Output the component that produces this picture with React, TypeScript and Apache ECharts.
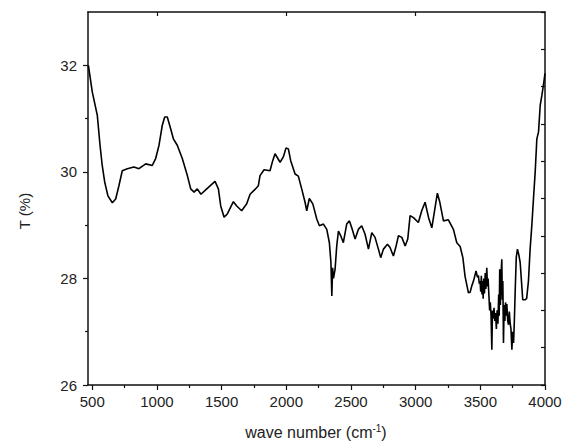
import React, { useEffect, useRef } from "react";
import * as echarts from "echarts";

const waveNumbers = [
  470, 500, 539, 560, 577, 596, 621, 655, 681, 706, 732, 771, 822, 861, 913, 964, 990, 1016, 1041, 1060,
  1080, 1106, 1127, 1157, 1196, 1235, 1261, 1287, 1312, 1340, 1385, 1449, 1475, 1493, 1519, 1544, 1591,
  1617, 1655, 1694, 1720, 1758, 1784, 1797, 1828, 1874, 1895, 1913, 1952, 1977, 1998, 2016, 2034, 2068,
  2093, 2119, 2145, 2158, 2178, 2205, 2236, 2256, 2287, 2313, 2333, 2345, 2352, 2358, 2365, 2377, 2390,
  2403, 2421, 2441, 2467, 2488, 2506, 2532, 2557, 2583, 2609, 2635, 2661, 2686, 2712, 2730, 2751, 2782,
  2802, 2828, 2849, 2867, 2893, 2919, 2939, 2957, 2983, 3021, 3047, 3073, 3100, 3125, 3150, 3168, 3185,
  3215, 3253, 3292, 3318, 3344, 3365, 3382, 3408, 3421, 3434, 3447, 3467, 3478, 3485, 3492, 3498, 3503,
  3508, 3513, 3518, 3522, 3527, 3532, 3538, 3543, 3550, 3555, 3560, 3566, 3572, 3577, 3583, 3589, 3594,
  3600, 3606, 3612, 3618, 3624, 3630, 3636, 3642, 3646, 3650, 3655, 3660, 3666, 3670, 3674, 3679, 3684,
  3690, 3695, 3700, 3705, 3712, 3718, 3724, 3731, 3737, 3744, 3750, 3757, 3763, 3770, 3778, 3787, 3797,
  3808, 3828, 3846, 3858, 3872, 3885, 3898, 3911, 3924, 3937, 3950, 3963, 3976, 3988, 4000,
];

const transmittance = [
  32.0, 31.5, 31.06, 30.5, 30.12, 29.81, 29.55, 29.42, 29.49, 29.74, 30.02, 30.06, 30.09, 30.06, 30.15,
  30.12, 30.25, 30.5, 30.87, 31.03, 31.03, 30.81, 30.62, 30.5, 30.25, 29.93, 29.68, 29.62, 29.68, 29.58,
  29.68, 29.82, 29.68, 29.36, 29.15, 29.21, 29.44, 29.36, 29.27, 29.4, 29.58, 29.67, 29.74, 29.93, 30.04,
  30.02, 30.21, 30.34, 30.18, 30.28, 30.45, 30.43, 30.21, 29.96, 29.92, 29.68, 29.43, 29.27, 29.5, 29.4,
  29.11, 28.99, 29.02, 28.92, 28.67, 28.3, 27.67, 28.2, 28.0, 28.17, 28.61, 28.89, 28.8, 28.67, 29.02,
  29.08, 28.95, 28.74, 28.92, 28.99, 28.83, 28.55, 28.86, 28.77, 28.55, 28.39, 28.55, 28.64, 28.58, 28.42,
  28.61, 28.8, 28.77, 28.61, 28.74, 29.18, 29.14, 29.05, 29.27, 29.43, 29.14, 28.95, 29.33, 29.6, 29.45,
  29.08, 29.1, 28.92, 28.67, 28.6, 28.39, 28.04, 27.73, 27.74, 27.86, 27.95, 28.14, 28.02, 28.06, 27.9,
  27.95, 27.75, 28.05, 27.7, 27.95, 27.62, 28.0, 27.72, 28.1, 27.8, 28.2, 27.85, 28.0, 27.7, 27.4, 27.55,
  27.3, 26.66, 27.4, 27.25, 27.45, 27.2, 27.35, 27.05, 27.4, 27.15, 27.7, 27.3, 28.17, 27.5, 28.05, 28.36,
  27.6, 27.95, 26.79, 27.5, 27.2, 27.55, 27.3, 27.52, 27.2, 27.13, 27.38, 27.15, 27.05, 26.66, 27.0, 26.79,
  27.2, 27.8, 28.4, 28.55, 28.45, 28.3, 27.6, 27.6, 27.62, 27.95, 28.55, 28.99, 29.5, 29.99, 30.62, 30.75,
  31.25, 31.44, 31.63, 31.85,
];

const xMajorTicks = [500, 1000, 1500, 2000, 2500, 3000, 3500, 4000];
const xMinorTicks = [750, 1250, 1750, 2250, 2750, 3250, 3750];
const xTopTicks = [1000, 2000, 3000];
const yMajorTicks = [26, 28, 30, 32];
const yMinorTicks = [27, 29, 31];

const xTitle = "wave number (cm{sup|-1})";
const yTitle = "T (%)";

export default function App() {
  const ref = useRef<HTMLDivElement>(null);

  useEffect(() => {
    document.body.style.margin = "0";
    const chart = echarts.init(ref.current!, null, { renderer: "svg" });
    const font = "Liberation Sans";
    const lineCol = "#111";
    const xMin = 467;
    const xMax = 4000;
    const yMin = 26;
    const yMax = 33;
    const plain = (v: number) => String(v);

    chart.setOption({
      animation: false,
      backgroundColor: "#fff",
      grid: { left: 88, top: 12, right: 23, bottom: 63 },
      xAxis: [
        {
          type: "value",
          position: "bottom",
          min: xMin,
          max: xMax,
          axisLine: { show: true, lineStyle: { color: lineCol, width: 1.5 } },
          axisTick: { show: true, inside: false, length: 5, customValues: xMajorTicks, lineStyle: { color: lineCol, width: 1.2 } },
          axisLabel: { customValues: xMajorTicks, formatter: plain, fontFamily: font, fontSize: 15, color: "#222", margin: 9 },
          splitLine: { show: false },
        },
        {
          type: "value",
          position: "top",
          min: xMin,
          max: xMax,
          axisLine: { show: true, lineStyle: { color: lineCol, width: 1.5 } },
          axisTick: { show: true, inside: true, length: 4, customValues: xTopTicks, lineStyle: { color: lineCol, width: 1.2 } },
          axisLabel: { show: false },
          splitLine: { show: false },
        },
        {
          type: "value",
          position: "bottom",
          min: xMin,
          max: xMax,
          axisLine: { show: false },
          axisTick: { show: true, inside: false, length: 3, customValues: xMinorTicks, lineStyle: { color: lineCol, width: 1.2 } },
          axisLabel: { show: false },
          splitLine: { show: false },
        },
      ],
      yAxis: [
        {
          type: "value",
          position: "left",
          min: yMin,
          max: yMax,
          axisLine: { show: true, lineStyle: { color: lineCol, width: 1.5 } },
          axisTick: { show: true, inside: false, length: 5, customValues: yMajorTicks, lineStyle: { color: lineCol, width: 1.2 } },
          axisLabel: { customValues: yMajorTicks, formatter: plain, fontFamily: font, fontSize: 15, color: "#222", margin: 11 },
          splitLine: { show: false },
        },
        {
          type: "value",
          position: "right",
          min: 0,
          max: 10,
          interval: 1,
          axisLine: { show: true, lineStyle: { color: lineCol, width: 1.5 } },
          axisTick: { show: true, inside: true, length: 4, lineStyle: { color: lineCol, width: 1.2 } },
          axisLabel: { show: false },
          splitLine: { show: false },
        },
        {
          type: "value",
          position: "left",
          min: yMin,
          max: yMax,
          axisLine: { show: false },
          axisTick: { show: true, inside: false, length: 3, customValues: yMinorTicks, lineStyle: { color: lineCol, width: 1.2 } },
          axisLabel: { show: false },
          splitLine: { show: false },
        },
      ],
      series: [
        {
          type: "line",
          xAxisIndex: 0,
          yAxisIndex: 0,
          data: waveNumbers.map((x, i) => [x, transmittance[i]]),
          showSymbol: false,
          lineStyle: { color: "#000", width: 1.6 },
          z: 1,
        },
      ],
      graphic: [
        {
          type: "text",
          x: 316,
          y: 432,
          style: {
            text: xTitle,
            font: `16px "${font}"`,
            fill: "#222",
            align: "center",
            verticalAlign: "middle",
            rich: {
              sup: { fontSize: 10, fontFamily: font, fill: "#222", verticalAlign: "top", padding: [0, 0, 8, 0] },
            },
          },
        },
        {
          type: "text",
          x: 24,
          y: 211,
          rotation: Math.PI / 2,
          style: {
            text: yTitle,
            font: `15px "${font}"`,
            fill: "#222",
            align: "center",
            verticalAlign: "middle",
          },
        },
      ],
    });
    return () => chart.dispose();
  }, []);

  return <div ref={ref} style={{ width: 568, height: 448 }} />;
}
